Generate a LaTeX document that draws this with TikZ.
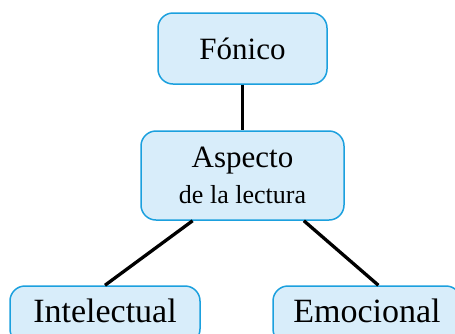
\documentclass[tikz,border=0pt]{standalone}
\usepackage{fontspec}
\setmainfont{Liberation Serif}
\usetikzlibrary{calc}
\definecolor{boxfill}{RGB}{216,237,250}
\definecolor{boxline}{RGB}{27,160,222}
\begin{document}
\begin{tikzpicture}[x=1pt,y=-1pt,
  box/.style={draw=boxline,fill=boxfill,line width=1.5pt,rounded corners=15pt,
    inner sep=0pt,align=center,font=\fontsize{31}{33}\selectfont},
  bottombox/.style={box,minimum height=58pt,text height=25pt,text depth=11pt,
    font=\fontsize{34}{36}\selectfont},
  link/.style={line width=3.3pt,black}]
\useasboundingbox (0,0) rectangle (455,333);
\clip (0,0) rectangle (455,333);
\node[box,minimum width=169pt,minimum height=71pt] (fon) at (242.5,48.5) {Fónico};
\node[box,minimum width=203pt,minimum height=89pt] (asp) at (242.5,175.5)
  {Aspecto\\[3pt]{\fontsize{26}{28}\selectfont de la lectura}};
\node[bottombox,minimum width=190pt] (int) at (105,315) {Intelectual};
\node[bottombox,minimum width=188pt] (emo) at (367,315) {Emocional};
\coordinate (a1) at ($(asp.south west)!0.256!(asp.south east)$);
\coordinate (a2) at ($(asp.south west)!0.80!(asp.south east)$);
\coordinate (e1) at ($(emo.north west)!0.56!(emo.north east)$);
\draw[link] (fon.south) -- (asp.north);
\draw[link] (a1) -- (int.north);
\draw[link] (a2) -- (e1);
\end{tikzpicture}
\end{document}
